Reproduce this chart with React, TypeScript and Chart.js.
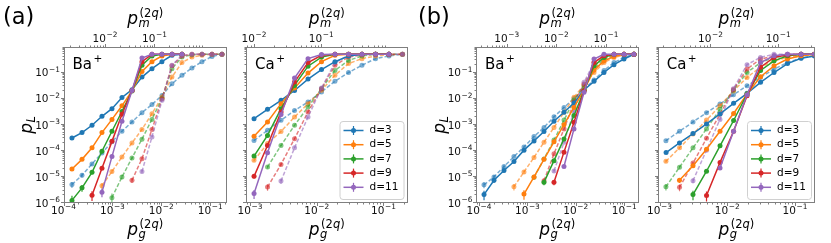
import React, { useEffect, useRef } from 'react';
import { Chart, registerables } from 'chart.js';

Chart.register(...registerables);

const W = 831;
const H = 243;
const FAMILY = "'DejaVu Sans', 'Liberation Sans', sans-serif";

const COLORS = ['#1f77b4', '#ff7f0e', '#2ca02c', '#d62728', '#9467bd'];
const FADED = ['rgba(31,119,180,0.6)', 'rgba(255,127,14,0.6)', 'rgba(44,160,44,0.6)', 'rgba(214,39,40,0.6)', 'rgba(148,103,189,0.6)'];
const LEGEND_LABELS = ['d=3', 'd=5', 'd=7', 'd=9', 'd=11'];

const Y_MIN = 1e-6;
const Y_MAX = 0.95;
const Y_MAJOR = [1e-6, 1e-5, 1e-4, 1e-3, 1e-2, 1e-1];
const SHOTS = 3e6;

// ---------- (a) Ba+ ----------
const aBaPg = [1.49e-4, 2.39e-4, 3.83e-4, 6.12e-4, 9.8e-4, 1.57e-3, 2.52e-3, 4.03e-3, 6.45e-3, 1.03e-2, 1.66e-2, 2.65e-2];
const aBaSolid = [
  [3.1e-4, 5.0e-4, 9.5e-4, 2.1e-3, 4.1e-3, 1.1e-2, 2.2e-2, 6.7e-2, 0.14, 0.26, 0.455, 0.5],
  [2.0e-5, 4.7e-5, 1.3e-4, 5.0e-4, 1.6e-3, 5.3e-3, 2.0e-2, 0.11, 0.26, 0.43, 0.5, 0.5],
  [1.26e-6, 3.8e-6, 1.5e-5, 9.6e-5, 5.6e-4, 3.2e-3, 1.95e-2, 0.19, 0.43, 0.5, 0.5, 0.5],
  [null, null, 2.0e-6, 2.15e-5, 2.3e-4, 2.5e-3, 2.05e-2, 0.26, 0.5, 0.5, 0.5, 0.5],
  [null, null, null, 2.6e-6, 6.0e-5, 1.35e-3, 2.05e-2, 0.36, 0.5, 0.5, 0.5, 0.5],
];
const aBaPm = [2.15e-3, 3.43e-3, 5.46e-3, 8.69e-3, 1.38e-2, 2.2e-2, 3.51e-2, 5.58e-2, 8.89e-2, 0.142, 0.225, 0.359, 0.571, 0.91, 1.45, 2.31];
const aBaDashed = [
  [5.1e-6, 1.15e-5, 3.1e-5, 8.3e-5, 2.2e-4, 5.6e-4, 1.27e-3, 2.9e-3, 5.9e-3, 1.33e-2, 3.7e-2, 7.8e-2, 0.15, 0.26, 0.41, 0.5],
  [null, null, null, 4.6e-6, 1.6e-5, 5.8e-5, 2.0e-4, 6.6e-4, 2.65e-3, 1.15e-2, 6.7e-2, 0.24, 0.39, 0.455, 0.5, 0.5],
  [null, null, null, null, 1.6e-6, 9.9e-6, 5.3e-5, 2.8e-4, 1.6e-3, 1.04e-2, 0.14, 0.39, 0.48, 0.5, 0.5, 0.5],
  [null, null, null, null, null, null, 7.4e-6, 5.0e-5, 6.6e-4, 9.9e-3, 0.18, 0.43, 0.5, 0.5, 0.5, 0.5],
  [null, null, null, null, null, null, null, 1.6e-5, 3.4e-4, 8.6e-3, 0.19, 0.455, 0.5, 0.5, 0.5, 0.5],
];
const aBaPgTicks = [1e-4, 1e-3, 1e-2, 1e-1];
const aBaPmTicks = [1e-2, 1e-1];

// ---------- (a) Ca+ ----------
const aCaPg = [1.15e-3, 1.83e-3, 2.92e-3, 4.65e-3, 7.41e-3, 1.18e-2, 1.88e-2, 3.0e-2, 4.78e-2, 7.62e-2, 0.121];
const aCaSolid = [
  [1.7e-3, 3.9e-3, 8.6e-3, 2.05e-2, 5.6e-2, 0.13, 0.26, 0.43, 0.5, 0.5, 0.5],
  [3.6e-4, 1.27e-3, 6.4e-3, 2.55e-2, 0.095, 0.26, 0.455, 0.5, 0.5, 0.5, 0.5],
  [6.3e-5, 3.9e-4, 4.1e-3, 3.2e-2, 0.175, 0.39, 0.5, 0.5, 0.5, 0.5, 0.5],
  [1.05e-5, 1.6e-4, 3.1e-3, 4.3e-2, 0.24, 0.455, 0.5, 0.5, 0.5, 0.5, 0.5],
  [2.3e-6, 8.5e-5, 2.45e-3, 6.1e-2, 0.34, 0.49, 0.5, 0.5, 0.5, 0.5, 0.5],
];
const aCaPm = [1.0e-2, 1.59e-2, 2.52e-2, 4.01e-2, 6.36e-2, 0.101, 0.16, 0.255, 0.404, 0.643, 1.02, 1.62];
const aCaDashed = [
  [2.5e-4, 6.1e-4, 1.47e-3, 3.5e-3, 7.4e-3, 1.8e-2, 4.6e-2, 0.1, 0.19, 0.34, 0.43, 0.5],
  [4.3e-5, 1.9e-4, 5.5e-4, 1.97e-3, 6.4e-3, 2.1e-2, 7.8e-2, 0.22, 0.34, 0.43, 0.48, 0.5],
  [null, 2.4e-5, 1.6e-4, 9.5e-4, 4.8e-3, 2.4e-2, 0.12, 0.29, 0.43, 0.5, 0.5, 0.5],
  [null, 4.1e-6, 3.0e-5, 2.9e-4, 3.1e-3, 2.4e-2, 0.19, 0.39, 0.48, 0.5, 0.5, 0.5],
  [null, null, 6.9e-6, 1.3e-4, 1.97e-3, 2.55e-2, 0.24, 0.455, 0.5, 0.5, 0.5, 0.5],
];
const aCaPgTicks = [1e-3, 1e-2, 1e-1];
const aCaPmTicks = [1e-2, 1e-1];

// ---------- (b) Ba+ ----------
const bBaPg = [1.27e-4, 2.04e-4, 3.28e-4, 5.28e-4, 8.5e-4, 1.37e-3, 2.2e-3, 3.54e-3, 5.7e-3, 9.18e-3, 1.48e-2, 2.38e-2, 3.82e-2, 6.15e-2, 9.9e-2, 0.159];
const bBaSolid = [
  [2.1e-6, 7.4e-6, 1.75e-5, 3.9e-5, 1.06e-4, 2.4e-4, 5.5e-4, 1.35e-3, 3.0e-3, 6.8e-3, 2.15e-2, 4.6e-2, 0.1, 0.2, 0.33, 0.5],
  [null, null, null, null, 2.2e-6, 1.0e-5, 4.7e-5, 2.2e-4, 1.0e-3, 4.6e-3, 2.15e-2, 0.124, 0.28, 0.41, 0.5, 0.5],
  [null, null, null, null, null, null, 6.2e-6, 4.2e-5, 2.85e-4, 2.25e-3, 2.05e-2, 0.18, 0.38, 0.5, 0.5, 0.5],
  [null, null, null, null, null, null, null, 6.2e-6, 8.9e-5, 1.25e-3, 1.95e-2, 0.24, 0.44, 0.5, 0.5, 0.5],
  [null, null, null, null, null, null, null, null, 2.5e-5, 6.9e-4, 1.75e-2, 0.33, 0.5, 0.5, 0.5, 0.5],
];
const bBaPm = [3.49e-4, 5.55e-4, 8.83e-4, 1.4e-3, 2.23e-3, 3.55e-3, 5.65e-3, 8.98e-3, 1.43e-2, 2.27e-2, 3.61e-2, 5.74e-2, 9.13e-2, 0.145, 0.231, 0.367];
const bBaDashed = [
  [5.0e-6, 1.0e-5, 2.5e-5, 6.0e-5, 1.4e-4, 3.5e-4, 7.9e-4, 2.0e-3, 4.6e-3, 1.02e-2, 2.3e-2, 5.2e-2, 0.12, 0.24, 0.38, 0.5],
  [null, null, null, 4.2e-6, 1.55e-5, 5.6e-5, 2.15e-4, 7.9e-4, 3.0e-3, 1.13e-2, 3.4e-2, 0.1, 0.24, 0.38, 0.47, 0.5],
  [null, null, null, null, null, 9.6e-6, 4.9e-5, 2.6e-4, 1.5e-3, 8.8e-3, 3.1e-2, 0.135, 0.33, 0.44, 0.5, 0.5],
  [null, null, null, null, null, null, 7.2e-6, 7.7e-5, 6.9e-4, 7.2e-3, 3.6e-2, 0.18, 0.38, 0.47, 0.5, 0.5],
  [null, null, null, null, null, null, null, 1.7e-5, 2.15e-4, 3.4e-3, 4.2e-2, 0.24, 0.44, 0.5, 0.5, 0.5],
];
const bBaPgTicks = [1e-4, 1e-3, 1e-2, 1e-1];
const bBaPmTicks = [1e-3, 1e-2, 1e-1];

// ---------- (b) Ca+ ----------
const bCaPg = [1.25e-3, 1.97e-3, 3.12e-3, 4.94e-3, 7.82e-3, 1.24e-2, 1.96e-2, 3.1e-2, 4.9e-2, 7.75e-2, 0.123, 0.194];
const bCaSolid = [
  [8.6e-5, 2.0e-4, 4.6e-4, 1.07e-3, 2.6e-3, 6.6e-3, 1.6e-2, 4.2e-2, 0.1, 0.22, 0.35, 0.43],
  [null, 7.4e-6, 2.7e-5, 1.15e-4, 5.6e-4, 2.7e-3, 1.5e-2, 6.9e-2, 0.18, 0.33, 0.44, 0.5],
  [null, null, 2.1e-6, 1.65e-5, 1.55e-4, 1.45e-3, 1.5e-2, 0.12, 0.28, 0.44, 0.5, 0.5],
  [null, null, null, 1.95e-6, 3.6e-5, 5.6e-4, 1.3e-2, 0.16, 0.38, 0.47, 0.5, 0.5],
  [null, null, null, null, 2.2e-5, 5.6e-4, 1.4e-2, 0.24, 0.44, 0.5, 0.5, 0.5],
];
const bCaPm = [2.2e-3, 3.49e-3, 5.52e-3, 8.73e-3, 1.38e-2, 2.18e-2, 3.46e-2, 5.47e-2, 8.65e-2, 0.137, 0.217, 0.343];
const bCaDashed = [
  [2.45e-4, 5.6e-4, 1.27e-3, 2.9e-3, 6.2e-3, 1.4e-2, 3.1e-2, 6.5e-2, 0.135, 0.24, 0.36, 0.44],
  [3.95e-5, 1.3e-4, 4.4e-4, 1.5e-3, 5.3e-3, 1.95e-2, 6.5e-2, 0.16, 0.28, 0.38, 0.43, 0.5],
  [4.2e-6, 2.35e-5, 1.3e-4, 6.9e-4, 3.9e-3, 2.1e-2, 0.1, 0.24, 0.38, 0.43, 0.5, 0.5],
  [null, 4.0e-6, 3.4e-5, 3.0e-4, 2.55e-3, 2.25e-2, 0.135, 0.33, 0.42, 0.5, 0.5, 0.5],
  [null, null, 7.2e-6, 1.06e-4, 1.6e-3, 2.4e-2, 0.2, 0.38, 0.5, 0.5, 0.5, 0.5],
];
const bCaPgTicks = [1e-3, 1e-2, 1e-1];
const bCaPmTicks = [1e-2, 1e-1];

const PANELS = [
  { key: 'aBa', letter: '(a)', letterX: 3, ion: 'Ba', pg: aBaPg, pm: aBaPm, solid: aBaSolid, dashed: aBaDashed,
    xMin: 1e-4, xMax: 0.2208, x2Min: 1.452e-3, x2Max: 2.915, xMajor: aBaPgTicks, x2Major: aBaPmTicks,
    yLabels: true, legend: false, area: { l: 63.5, r: 227, t: 47, b: 203 } },
  { key: 'aCa', letter: '', letterX: 0, ion: 'Ca', pg: aCaPg, pm: aCaPm, solid: aCaSolid, dashed: aCaDashed,
    xMin: 8.71e-4, xMax: 0.2296, x2Min: 7.6e-3, x2Max: 1.923, xMajor: aCaPgTicks, x2Major: aCaPmTicks,
    yLabels: false, legend: true, area: { l: 246, r: 407.5, t: 47, b: 203 } },
  { key: 'bBa', letter: '(b)', letterX: 418, ion: 'Ba', pg: bBaPg, pm: bBaPm, solid: bBaSolid, dashed: bBaDashed,
    xMin: 8.67e-5, xMax: 0.1975, x2Min: 2.41e-4, x2Max: 0.4519, xMajor: bBaPgTicks, x2Major: bBaPmTicks,
    yLabels: true, legend: false, area: { l: 476, r: 638.5, t: 47, b: 203 } },
  { key: 'bCa', letter: '', letterX: 0, ion: 'Ca', pg: bCaPg, pm: bCaPm, solid: bCaSolid, dashed: bCaDashed,
    xMin: 9.4e-4, xMax: 0.1973, x2Min: 1.663e-3, x2Max: 0.3486, xMajor: bCaPgTicks, x2Major: bCaPmTicks,
    yLabels: false, legend: true, area: { l: 657.7, r: 815, t: 47, b: 203 } },
];

function isMajor(v: number, majors: number[]) {
  return majors.some((m) => Math.abs(m - v) / m < 1e-9);
}
function makeTicks(min: number, max: number, majors: number[]) {
  const out: any[] = [];
  majors.forEach((v) => {
    if (v >= min * (1 - 1e-9) && v <= max * (1 + 1e-9)) out.push({ value: v, major: true });
  });
  const lo = Math.floor(Math.log10(min));
  const hi = Math.floor(Math.log10(max));
  for (let e = lo; e <= hi; e++) {
    for (let k = 2; k <= 9; k++) {
      const v = k * Math.pow(10, e);
      if (v >= min && v <= max && v < 1) out.push({ value: v, major: false });
    }
  }
  out.sort((a, b) => a.value - b.value);
  return out;
}

function fnt(size: number, italic = false) {
  return `${italic ? 'italic ' : ''}${size}px ${FAMILY}`;
}
type Seg = { t: string; it?: boolean };
function segsWidth(ctx: any, segs: Seg[], size: number) {
  let w = 0;
  segs.forEach((s) => { ctx.font = fnt(size, !!s.it); w += ctx.measureText(s.t).width; });
  return w;
}
function drawSegs(ctx: any, segs: Seg[], size: number, x: number, y: number) {
  let cx = x;
  segs.forEach((s) => { ctx.font = fnt(size, !!s.it); ctx.fillText(s.t, cx, y); cx += ctx.measureText(s.t).width; });
}
const MAIN = 17;
const SCRIPT = 11.5;
function drawSymbol(ctx: any, cx: number, baseline: number, sub: Seg[], sup: Seg[] | null) {
  ctx.font = fnt(MAIN, true);
  const wp = ctx.measureText('p').width;
  const wsub = segsWidth(ctx, sub, SCRIPT);
  const wsup = sup ? segsWidth(ctx, sup, SCRIPT) : 0;
  const total = wp + Math.max(wsub + 0.5, sup ? 1.5 + wsup : 0);
  const x0 = cx - total / 2;
  ctx.textAlign = 'left';
  ctx.textBaseline = 'alphabetic';
  ctx.font = fnt(MAIN, true);
  ctx.fillText('p', x0, baseline);
  drawSegs(ctx, sub, SCRIPT, x0 + wp + 0.5, baseline + 3);
  if (sup) drawSegs(ctx, sup, SCRIPT, x0 + wp + 1.5, baseline - 7.5);
}
const SUP2Q: Seg[] = [{ t: '(2' }, { t: 'q', it: true }, { t: ')' }];

// tick label "10^n" in mathtext style
const TICK_MAIN = 10.5;
const TICK_SUP = 7.4;
function drawPow(ctx: any, v: number, x: number, baseline: number, align: string) {
  const e = Math.round(Math.log10(v));
  const sup = (e < 0 ? '\u2212' : '') + String(Math.abs(e));
  ctx.font = fnt(TICK_MAIN);
  const w1 = ctx.measureText('10').width;
  ctx.font = fnt(TICK_SUP);
  const w2 = ctx.measureText(sup).width;
  const total = w1 + 0.6 + w2;
  const x0 = align === 'center' ? x - total / 2 : x - total;
  ctx.textAlign = 'left';
  ctx.textBaseline = 'alphabetic';
  ctx.font = fnt(TICK_MAIN);
  ctx.fillText('10', x0, baseline);
  ctx.font = fnt(TICK_SUP);
  ctx.fillText(sup, x0 + w1 + 0.6, baseline - 4.6);
}

const FRAME = '#7f7f7f';

function decorPlugin(p: any) {
  return {
    id: 'decor_' + p.key,
    afterDatasetDraw(chart: any, args: any) {
      const ds = chart.data.datasets[args.index];
      const meta = args.meta;
      const ys = chart.scales.y;
      const a = chart.chartArea;
      const ctx = chart.ctx;
      ctx.save();
      ctx.beginPath();
      ctx.rect(a.left, a.top, a.right - a.left, a.bottom - a.top);
      ctx.clip();
      ctx.strokeStyle = ds.borderColor;
      ctx.lineWidth = 1.2;
      meta.data.forEach((pt: any, i: number) => {
        const v = ds.data[i].y;
        const s = Math.sqrt((v * (1 - v)) / SHOTS);
        const yHi = ys.getPixelForValue(v + s);
        const yLo = v - s > 0 ? ys.getPixelForValue(v - s) : a.bottom + 20;
        ctx.beginPath();
        ctx.moveTo(pt.x, yLo);
        ctx.lineTo(pt.x, yHi);
        ctx.stroke();
      });
      ctx.restore();
    },
    afterDraw(chart: any) {
      const ctx = chart.ctx;
      const a = chart.chartArea;
      const L = Math.round(a.left) + 0.5;
      const R = Math.round(a.right) - 0.5;
      const T = Math.round(a.top) + 0.5;
      const B = Math.round(a.bottom) - 0.5;
      ctx.save();
      ctx.strokeStyle = FRAME;
      ctx.lineWidth = 1;
      ctx.strokeRect(L, T, R - L, B - T);
      // tick marks and labels
      const drawTicks = (scale: any, majors: number[], side: string, labels: boolean) => {
        scale.ticks.forEach((t: any) => {
          const major = isMajor(t.value, majors);
          const len = major ? 3.5 : 2;
          const pos = scale.getPixelForValue(t.value);
          const px = Math.round(pos) + 0.5;
          ctx.strokeStyle = FRAME;
          ctx.lineWidth = 1;
          ctx.beginPath();
          if (side === 'bottom') { ctx.moveTo(px, B); ctx.lineTo(px, B + len); }
          else if (side === 'top') { ctx.moveTo(px, T); ctx.lineTo(px, T - len); }
          else { ctx.moveTo(L, px - 1); ctx.lineTo(L - len, px - 1); }
          ctx.stroke();
          if (major && labels) {
            ctx.fillStyle = '#111';
            if (side === 'bottom') drawPow(ctx, t.value, pos, a.bottom + 10.5, 'center');
            else if (side === 'top') drawPow(ctx, t.value, pos, a.top - 5.3, 'center');
            else drawPow(ctx, t.value, a.left - 3.5, pos + 3.8, 'right');
          }
        });
      };
      drawTicks(chart.scales.x, p.xMajor, 'bottom', true);
      drawTicks(chart.scales.x2, p.x2Major, 'top', true);
      drawTicks(chart.scales.y, Y_MAJOR, 'left', p.yLabels);

      ctx.fillStyle = '#000';
      // ion label
      ctx.textAlign = 'left';
      ctx.textBaseline = 'alphabetic';
      ctx.font = fnt(15);
      const ix = a.left + 9;
      const iy = a.top + 21.5;
      ctx.fillText(p.ion, ix, iy);
      const iw = ctx.measureText(p.ion).width;
      ctx.font = fnt(10.5);
      ctx.fillText('+', ix + iw + 1.5, iy - 7);

      // axis labels
      const cx = (a.left + a.right) / 2;
      drawSymbol(ctx, cx, 235, [{ t: 'g', it: true }], SUP2Q);
      drawSymbol(ctx, cx, 24, [{ t: 'm', it: true }], SUP2Q);
      if (p.yLabels) {
        ctx.save();
        ctx.translate(a.left - 34, (a.top + a.bottom) / 2);
        ctx.rotate(-Math.PI / 2);
        drawSymbol(ctx, 0, 2.9, [{ t: 'L', it: true }], null);
        ctx.restore();
      }
      if (p.letter) {
        ctx.font = fnt(22.5);
        ctx.textAlign = 'left';
        ctx.textBaseline = 'alphabetic';
        ctx.fillText(p.letter, p.letterX, 24);
      }
      if (p.legend) {
        const bw = 64;
        const bh = 78;
        const bx = a.right - 4 - bw;
        const by = a.bottom - 4 - bh;
        ctx.beginPath();
        if (ctx.roundRect) ctx.roundRect(bx + 0.5, by + 0.5, bw, bh, 3);
        else ctx.rect(bx + 0.5, by + 0.5, bw, bh);
        ctx.fillStyle = 'rgba(255,255,255,0.8)';
        ctx.fill();
        ctx.strokeStyle = '#d0d0d0';
        ctx.lineWidth = 1;
        ctx.stroke();
        LEGEND_LABELS.forEach((lab, i) => {
          const cy = by + 9.5 + i * 14.2;
          ctx.strokeStyle = COLORS[i];
          ctx.lineWidth = 1.5;
          ctx.beginPath();
          ctx.moveTo(bx + 4, cy);
          ctx.lineTo(bx + 24, cy);
          ctx.stroke();
          ctx.lineWidth = 1.2;
          ctx.beginPath();
          ctx.moveTo(bx + 14, cy - 4.5);
          ctx.lineTo(bx + 14, cy + 4.5);
          ctx.stroke();
          ctx.fillStyle = COLORS[i];
          ctx.beginPath();
          ctx.arc(bx + 14, cy, 2.5, 0, Math.PI * 2);
          ctx.fill();
          ctx.fillStyle = '#000';
          ctx.font = fnt(10.5);
          ctx.textAlign = 'left';
          ctx.textBaseline = 'middle';
          ctx.fillText(lab, bx + 30, cy);
        });
      }
      ctx.restore();
    },
  };
}

function makeDataset(xs: number[], ys: (number | null)[], i: number, dashed: boolean) {
  const pts: any[] = [];
  xs.forEach((x, k) => { const y = ys[k]; if (y !== null && y !== undefined) pts.push({ x, y }); });
  const color = dashed ? FADED[i] : COLORS[i];
  return {
    label: LEGEND_LABELS[i] + (dashed ? ' (p_m)' : ''),
    data: pts,
    xAxisID: dashed ? 'x2' : 'x',
    yAxisID: 'y',
    borderColor: color,
    backgroundColor: color,
    pointBackgroundColor: color,
    pointBorderColor: color,
    pointBorderWidth: 0,
    pointRadius: 2.5,
    borderWidth: 1.5,
    borderDash: dashed ? [4, 2] : [],
    tension: 0,
    order: dashed ? 20 - i : 10 - i,
  };
}

function buildChart(canvas: HTMLCanvasElement, p: any) {
  const datasets: any[] = [];
  p.dashed.forEach((ys: any, i: number) => datasets.push(makeDataset(p.pm, ys, i, true)));
  p.solid.forEach((ys: any, i: number) => datasets.push(makeDataset(p.pg, ys, i, false)));
  const WY = 30;
  const HX = 20;
  const fixW = (s: any) => { s.width = WY; s.paddingLeft = 0; s.paddingRight = 0; s.paddingTop = 0; s.paddingBottom = 0; };
  const fixH = (s: any) => { s.height = HX; s.paddingLeft = 0; s.paddingRight = 0; s.paddingTop = 0; s.paddingBottom = 0; };
  const common = {
    type: 'logarithmic',
    bounds: 'data',
    grid: { display: false, drawTicks: false, tickLength: 0, drawOnChartArea: false },
    border: { display: false },
    ticks: { display: false, autoSkip: false },
  };
  return new Chart(canvas, {
    type: 'line',
    data: { datasets },
    options: {
      responsive: false,
      animation: false,
      devicePixelRatio: 1,
      events: [],
      layout: { autoPadding: false, padding: { left: p.area.l - WY, right: W - p.area.r, top: p.area.t - HX, bottom: H - p.area.b - HX } },
      plugins: { legend: { display: false }, tooltip: { enabled: false }, title: { display: false } },
      scales: {
        x: {
          ...common, position: 'bottom', min: p.xMin, max: p.xMax,
          afterBuildTicks: (s: any) => { s.ticks = makeTicks(p.xMin, p.xMax, p.xMajor); },
          afterFit: fixH,
        },
        x2: {
          ...common, position: 'top', min: p.x2Min, max: p.x2Max,
          afterBuildTicks: (s: any) => { s.ticks = makeTicks(p.x2Min, p.x2Max, p.x2Major); },
          afterFit: fixH,
        },
        y: {
          ...common, position: 'left', min: Y_MIN, max: Y_MAX,
          afterBuildTicks: (s: any) => { s.ticks = makeTicks(Y_MIN, Y_MAX, Y_MAJOR); },
          afterFit: fixW,
        },
      },
    },
    plugins: [decorPlugin(p)],
  } as any);
}

export default function App() {
  const refs = [useRef<HTMLCanvasElement>(null), useRef<HTMLCanvasElement>(null), useRef<HTMLCanvasElement>(null), useRef<HTMLCanvasElement>(null)];
  useEffect(() => {
    const charts = PANELS.map((p, i) => buildChart(refs[i].current as HTMLCanvasElement, p));
    return () => charts.forEach((c) => c.destroy());
  }, []);
  return (
    <div style={{ position: 'absolute', left: 0, top: 0, width: W, height: H, background: '#fff', overflow: 'hidden' }}>
      {PANELS.map((p, i) => (
        <canvas key={p.key} ref={refs[i]} width={W} height={H} style={{ position: 'absolute', left: 0, top: 0, width: W, height: H }} />
      ))}
    </div>
  );
}
